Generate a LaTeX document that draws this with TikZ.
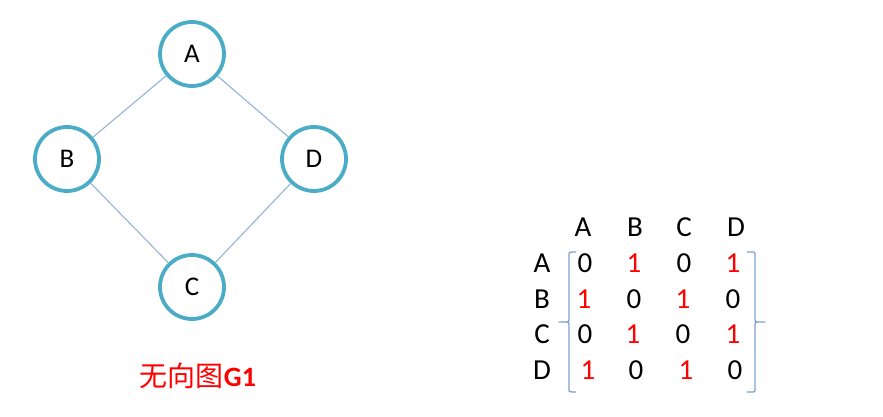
\documentclass[tikz,border=0pt]{standalone}
\usepackage{fontspec}
\setmainfont{Carlito}
\newfontfamily\cjk{Noto Sans CJK SC}
\definecolor{ringc}{HTML}{4BACC6}
\definecolor{edgec}{HTML}{95B3D7}
\definecolor{bracec}{HTML}{7F9FCF}
\definecolor{redc}{HTML}{FF0000}
\begin{document}
\begin{tikzpicture}[x=1pt,y=-1pt,
  vert/.style={circle,draw=ringc,line width=3.8pt,minimum size=64pt,inner sep=0pt,fill=white,font=\fontsize{27}{27}\selectfont},
  link/.style={draw=edgec,line width=1.1pt},
  mlab/.style={font=\fontsize{29}{29}\selectfont,inner sep=0pt},
  one/.style={mlab,text=redc},
  brc/.style={draw=bracec,line width=1.3pt,line join=round}]
\useasboundingbox (0,0) rectangle (883,417);
\node[vert] (A) at (192,54) {A};
\node[vert] (B) at (67,159) {B};
\node[vert] (D) at (314,159) {D};
\node[vert] (C) at (192,287) {C};
\draw[link] (A) -- (B);
\draw[link] (A) -- (D);
\draw[link] (B) -- (C);
\draw[link] (D) -- (C);
\node[font=\fontsize{28}{28}\selectfont,text=redc,inner sep=0pt] (title) at (198,376) {{\cjk 无向图}\textbf{G1}};
% header
\node[mlab] (hA) at (583,227) {A};
\node[mlab] (hB) at (635,227) {B};
\node[mlab] (hC) at (684,227) {C};
\node[mlab] (hD) at (736,227) {D};
\node[mlab] (rA) at (542,263) {A};
\node[mlab] (rB) at (542,299) {B};
\node[mlab] (rC) at (542,334) {C};
\node[mlab] (rD) at (542,370) {D};
% row A
\node[mlab] (m11) at (585,263) {0};
\node[one]  (m12) at (634,263) {1};
\node[mlab] (m13) at (684,263) {0};
\node[one]  (m14) at (733,263) {1};
% row B
\node[one]  (m21) at (584,299) {1};
\node[mlab] (m22) at (634,299) {0};
\node[one]  (m23) at (683,299) {1};
\node[mlab] (m24) at (733,299) {0};
% row C
\node[mlab] (m31) at (585,334) {0};
\node[one]  (m32) at (633,334) {1};
\node[mlab] (m33) at (683,334) {0};
\node[one]  (m34) at (733,334) {1};
% row D
\node[one]  (m41) at (588,370) {1};
\node[mlab] (m42) at (636,370) {0};
\node[one]  (m43) at (686,370) {1};
\node[mlab] (m44) at (735,370) {0};
% braces
\draw[brc] (576,252) -- (572,252) .. controls (569,252) .. (569,256) -- (569,318)
  .. controls (569,322) .. (564,322) -- (559,322) -- (564,322) .. controls (569,322) .. (569,326)
  -- (569,388) .. controls (569,392) .. (572,392) -- (576,392);
\draw[brc] (747,252) -- (751,252) .. controls (755,252) .. (755,256) -- (755,318)
  .. controls (755,322) .. (760,322) -- (765,322) -- (760,322) .. controls (755,322) .. (755,326)
  -- (755,388) .. controls (755,392) .. (751,392) -- (747,392);
\end{tikzpicture}
\end{document}
